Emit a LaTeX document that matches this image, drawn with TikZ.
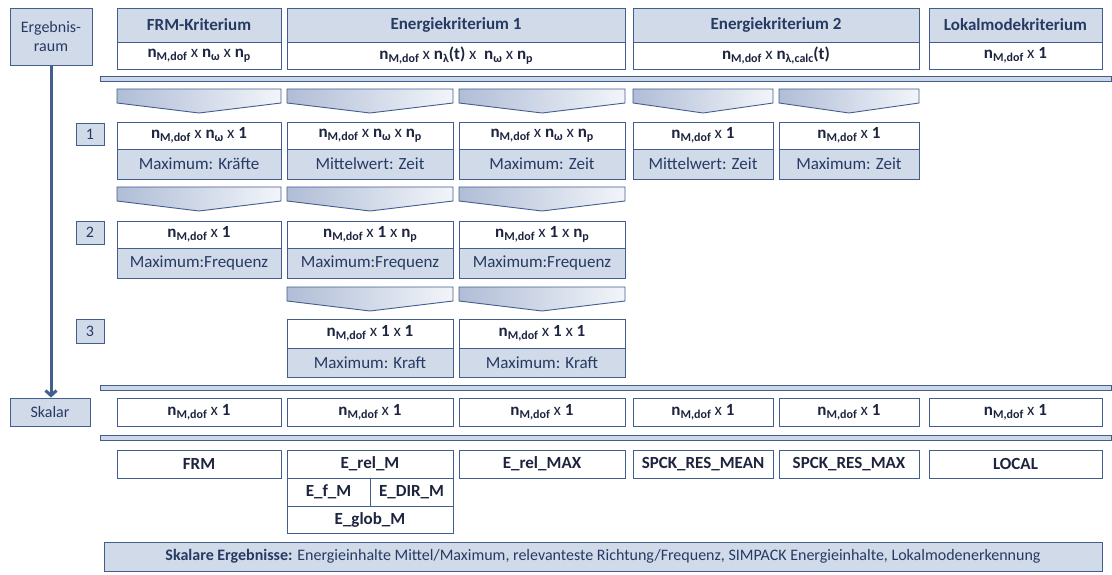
\documentclass[tikz,border=0pt]{standalone}
\usepackage{fontspec}
\setmainfont{Carlito}
\usetikzlibrary{shadows,arrows.meta}
\definecolor{bfill}{RGB}{209,218,233}
\definecolor{bline}{RGB}{66,94,140}
\definecolor{htext}{RGB}{38,58,98}
\definecolor{dtext}{RGB}{28,36,62}
\definecolor{chevL}{RGB}{176,189,214}
\definecolor{chevR}{RGB}{242,245,250}
\definecolor{barfill}{RGB}{205,214,230}
\newcommand\sub[1]{\raisebox{-0.4ex}{\fontsize{12}{12}\selectfont\bfseries #1}}
\newcommand\nn[1]{\textbf{n}\sub{#1}}
\newcommand\nM{\nn{M,dof}}
\newcommand\one{\textbf{1}}
\newcommand\bx[7][]{\node[#1, minimum width={(#5-#3)*1pt}, minimum height={(#6-#4)*1pt}] (#2) at ({(#3+#5)/2},{(#4+#6)/2}) {#7};}
\newcommand\chev[3]{\draw[chevst] ({#1},{#3}) -- ({#2},{#3}) -- ({#2},{#3+14}) -- ({(#1+#2)/2},{#3+24}) -- ({#1},{#3+14}) -- cycle;}
\tikzset{
 bxbase/.style={draw=bline, line width=0.9pt, inner sep=0pt, font=\fontsize{17}{19}\selectfont,
   drop shadow={shadow xshift=1.3pt, shadow yshift=-1.3pt, opacity=0.25, fill=black}},
 hdr/.style={bxbase, fill=bfill, text=htext, font=\fontsize{17}{19}\selectfont\bfseries},
 wbox/.style={bxbase, fill=white, text=dtext},
 wbold/.style={wbox, font=\fontsize{17}{19}\selectfont\bfseries},
 fillbox/.style={bxbase, fill=bfill, text=htext},
 chevst/.style={draw=bline, line width=0.9pt, left color=chevL, right color=chevR},
 barst/.style={draw=bline, line width=0.9pt, fill=barfill},
}
\begin{document}
\begin{tikzpicture}[x=1pt,y=-1pt]
\useasboundingbox (0,0) rectangle (1112,575);
% bars
\draw[barst] (100,76) rectangle (1111,81.5);
\draw[barst] (100,385) rectangle (1111,390.5);
\draw[barst] (100,435) rectangle (1111,440.5);
% chevrons
\chev{117}{281}{89}
\chev{287}{453}{89}
\chev{459}{625}{89}
\chev{633}{773}{89}
\chev{779}{919}{89}
\chev{117}{281}{187}
\chev{287}{453}{187}
\chev{459}{625}{187}
\chev{287}{453}{287}
\chev{459}{625}{287}
% left column
\bx[fillbox, align=center, font=\fontsize{16}{19}\selectfont]{erg}{10}{8}{92}{65}{Ergebnis-\\raum}
\bx[fillbox, font=\fontsize{16}{19}\selectfont]{skal}{10}{398}{90}{426}{Skalar}
\draw[bline, line width=3pt, -{Straight Barb[length=5pt,width=11pt]}] (erg.south) -- (erg.south |- skal.north);
\bx[fillbox, font=\fontsize{16}{19}\selectfont]{s1}{76}{123}{104}{145}{1}
\bx[fillbox, font=\fontsize{16}{19}\selectfont]{s2}{76}{221}{104}{244}{2}
\bx[fillbox, font=\fontsize{16}{19}\selectfont]{s3}{76}{319}{104}{343}{3}
% header
\bx[hdr]{h1}{117}{8}{281}{42}{FRM-Kriterium}
\bx[wbox]{h1s}{117}{42}{281}{69}{\nM{} x \nn{ω} x \nn{p}}
\bx[hdr]{h2}{287}{8}{625}{42}{Energiekriterium 1}
\bx[wbox]{h2s}{287}{42}{625}{69}{\nM{} x \nn{λ}\textbf{(t)} x \ \nn{ω} x \nn{p}}
\bx[hdr]{h3}{633}{8}{919}{42}{Energiekriterium 2}
\bx[wbox]{h3s}{633}{42}{919}{69}{\nM{} x \nn{λ,calc}\textbf{(t)}}
\bx[hdr]{h4}{929}{8}{1102}{42}{Lokalmodekriterium}
\bx[wbox]{h4s}{929}{42}{1102}{69}{\nM{} x \one}
% row 1
\bx[wbox]{a1}{117}{122}{281}{149}{\nM{} x \nn{ω} x \one}
\bx[fillbox]{a1b}{117}{149}{281}{179}{Maximum: Kräfte}
\bx[wbox]{a2}{287}{122}{453}{149}{\nM{} x \nn{ω} x \nn{p}}
\bx[fillbox]{a2b}{287}{149}{453}{179}{Mittelwert: Zeit}
\bx[wbox]{a3}{459}{122}{625}{149}{\nM{} x \nn{ω} x \nn{p}}
\bx[fillbox]{a3b}{459}{149}{625}{179}{Maximum: Zeit}
\bx[wbox]{a4}{633}{122}{773}{149}{\nM{} x \one}
\bx[fillbox]{a4b}{633}{149}{773}{179}{Mittelwert: Zeit}
\bx[wbox]{a5}{779}{122}{919}{149}{\nM{} x \one}
\bx[fillbox]{a5b}{779}{149}{919}{179}{Maximum: Zeit}
% row 2
\bx[wbox]{b1}{117}{221}{281}{248}{\nM{} x \one}
\bx[fillbox]{b1b}{117}{248}{281}{278}{Maximum:Frequenz}
\bx[wbox]{b2}{287}{221}{453}{248}{\nM{} x \one{} x \nn{p}}
\bx[fillbox]{b2b}{287}{248}{453}{278}{Maximum:Frequenz}
\bx[wbox]{b3}{459}{221}{625}{248}{\nM{} x \one{} x \nn{p}}
\bx[fillbox]{b3b}{459}{248}{625}{278}{Maximum:Frequenz}
% row 3
\bx[wbox]{c2}{287}{319}{453}{348}{\nM{} x \one{} x \one}
\bx[fillbox]{c2b}{287}{348}{453}{377}{Maximum: Kraft}
\bx[wbox]{c3}{459}{319}{625}{348}{\nM{} x \one{} x \one}
\bx[fillbox]{c3b}{459}{348}{625}{377}{Maximum: Kraft}
% scalar row
\bx[wbox]{k1}{117}{398}{281}{426}{\nM{} x \one}
\bx[wbox]{k2}{287}{398}{453}{426}{\nM{} x \one}
\bx[wbox]{k3}{459}{398}{625}{426}{\nM{} x \one}
\bx[wbox]{k4}{633}{398}{773}{426}{\nM{} x \one}
\bx[wbox]{k5}{779}{398}{919}{426}{\nM{} x \one}
\bx[wbox]{k6}{929}{398}{1102}{426}{\nM{} x \one}
% results
\bx[wbold]{r1}{117}{450}{281}{478}{FRM}
\bx[wbold]{r2}{287}{450}{453}{478}{E\_rel\_M}
\bx[wbold]{r2a}{287}{478}{370}{506}{E\_f\_M}
\bx[wbold]{r2b}{370}{478}{453}{506}{E\_DIR\_M}
\bx[wbold]{r2c}{287}{506}{453}{533}{E\_glob\_M}
\bx[wbold]{r3}{459}{450}{625}{478}{E\_rel\_MAX}
\bx[wbold]{r4}{633}{450}{773}{478}{SPCK\_RES\_MEAN}
\bx[wbold]{r5}{779}{450}{919}{478}{SPCK\_RES\_MAX}
\bx[wbold]{r6}{929}{450}{1102}{478}{LOCAL}
% bottom
\bx[fillbox, font=\fontsize{16}{18}\selectfont]{sum}{104}{542}{1102}{571}{\textbf{Skalare Ergebnisse:} Energieinhalte Mittel/Maximum, relevanteste Richtung/Frequenz, SIMPACK Energieinhalte, Lokalmodenerkennung}
\end{tikzpicture}
\end{document}
